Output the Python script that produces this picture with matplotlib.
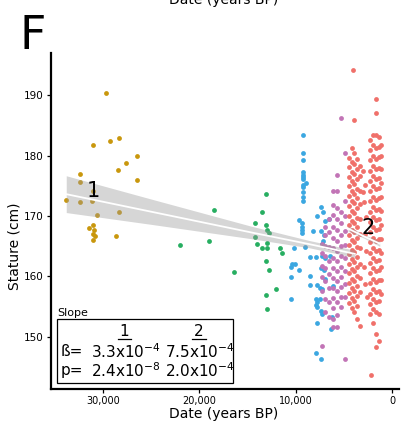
import matplotlib
matplotlib.use("Agg")
import matplotlib.pyplot as plt
import numpy as np

plt.rcParams['font.family'] = ['DejaVu Sans']
plt.rcParams['mathtext.default'] = 'regular'

# ---- data (years BP, stature cm) ----
gold_years = [29630, 31000, 29210, 28310, 26450, 27550, 28450, 32320, 26450, 32320,
              31040, 33770, 32320, 31080, 30590, 28340, 31000, 31450, 30930, 31040,
              30800, 28590, 31000]
gold_stature = [190.4, 181.7, 182.4, 182.9, 180.0, 178.7, 177.6, 176.9, 176.0, 175.6,
                174.1, 172.6, 172.3, 172.5, 170.1, 170.6, 168.5, 168.0, 167.7, 167.0,
                166.7, 166.6, 166.0]

green_years = [21960, 19020, 18440, 16360, 13050, 13460, 14250, 13080, 13000, 12740,
               14250, 13000, 14040, 13520, 13000, 11630, 11390, 13050, 12710, 12070,
               13050, 12970]
green_stature = [165.2, 165.9, 170.9, 160.7, 173.6, 170.6, 168.8, 168.5, 167.7, 167.2,
                 166.5, 165.5, 165.3, 164.6, 164.6, 164.6, 163.8, 162.5, 161.0, 157.8,
                 156.8, 154.5]

blue_years = [9250, 9250, 9250, 9250, 9250, 9250, 9250, 8970, 9250, 9250,
              9250, 9250, 9250, 7390, 7150, 7730, 6560, 6900, 9640, 9290,
              9290, 9290, 9290, 8150, 7390, 7050, 7110, 7210, 9000, 10190,
              8530, 7830, 7210, 6900, 6380, 10360, 10010, 10500, 9670, 7390,
              7050, 10430, 8530, 6900, 8530, 7730, 7490, 7210, 6110, 10430,
              7910, 7490, 7730, 7830, 7730, 7390, 7210, 6220, 7770, 6350,
              7830, 7360]
blue_stature = [183.4, 180.5, 179.2, 177.2, 176.8, 176.5, 176.1, 175.4, 175.1, 174.8,
                173.9, 173.2, 172.5, 171.4, 170.6, 170.0, 169.4, 169.2, 169.3, 168.8,
                168.2, 167.7, 167.2, 167.5, 167.5, 166.8, 165.9, 165.4, 164.9, 164.7,
                163.1, 163.1, 163.4, 163.0, 163.4, 162.0, 162.0, 161.6, 161.0, 161.4,
                161.0, 159.9, 160.1, 159.6, 158.5, 158.6, 158.1, 157.8, 158.4, 156.3,
                156.3, 156.3, 155.7, 155.2, 154.9, 154.2, 153.8, 153.3, 152.2, 151.3,
                147.3, 146.3]

# purple: read column by column
purple_col_years = [7250, 6900, 6500, 6100, 5700, 5300, 4850]
purple_col_stature = [
    [165.4, 163.8, 161.7, 159.9, 157.6, 148.4],
    [168.2, 166.8, 165.0, 163.4, 161.3, 159.2, 156.2, 154.0],
    [169.5, 167.3, 164.8, 162.6, 160.4, 158.1, 155.7, 153.2],
    [174.2, 171.8, 170.2, 168.2, 166.3, 164.6, 163.0, 161.3, 159.7, 158.0, 156.4, 154.7, 152.9, 151.6],
    [176.8, 174.1, 171.3, 169.4, 167.6, 165.8, 164.1, 162.5, 160.9, 159.2, 157.5, 155.8, 153.6, 151.6],
    [186.3, 170.7, 168.9, 166.8, 165.0, 163.3, 161.6, 159.9, 158.2, 156.6, 154.9],
    [180.4, 172.5, 170.0, 167.5, 165.2, 163.0, 160.8, 158.7, 156.5, 146.2],
]

# red: two dense clusters, read column by column
red_col_years = [4500, 4200, 3900, 3600, 3300, 2300, 2000, 1700, 1400, 1100]
red_col_stature = [
    [179.6, 178.1, 176.4, 174.9, 173.3, 171.6, 170.0, 168.5, 166.9, 165.2, 163.6, 162.1, 160.5, 158.8, 157.2, 155.6],
    [181.3, 179.0, 177.3, 175.7, 174.1, 172.4, 170.8, 169.2, 167.6, 166.0, 164.4, 162.8, 161.2, 159.6, 158.0, 156.4, 154.7],
    [185.9, 180.4, 178.6, 177.0, 175.3, 173.7, 172.1, 170.5, 168.9, 167.3, 165.7, 164.0, 162.4, 160.8, 159.2, 157.5, 155.9, 154.1],
    [179.4, 177.8, 176.1, 174.5, 172.9, 171.3, 169.7, 168.1, 166.4, 164.8, 163.2, 161.6, 160.0, 158.4, 156.7, 155.1, 152.9],
    [178.3, 176.6, 174.2, 171.9, 169.4, 167.0, 164.6, 162.1, 159.7, 157.3, 151.8],
    [182.6, 180.9, 179.2, 177.5, 175.8, 174.1, 172.4, 170.7, 169.0, 167.3, 165.6, 163.9, 162.2, 160.5, 158.8, 157.1, 155.4, 153.7],
    [183.4, 181.7, 180.0, 178.3, 176.6, 174.9, 173.2, 171.5, 169.8, 168.1, 166.4, 164.7, 163.0, 161.3, 159.6, 157.9, 156.2, 154.5, 152.3],
    [189.3, 187.1, 183.4, 181.2, 179.5, 177.8, 176.1, 174.4, 172.7, 171.0, 169.3, 167.6, 165.9, 164.2, 162.5, 160.8, 159.1, 157.4, 155.7, 154.0, 150.4, 148.3],
    [183.0, 181.4, 179.7, 178.0, 176.3, 174.6, 172.9, 171.2, 169.5, 167.8, 166.1, 164.4, 162.7, 161.0, 159.3, 157.6, 155.9, 153.8, 149.3],
    [181.8, 180.0, 177.7, 175.4, 173.1, 170.8, 168.5, 166.2, 163.9, 161.6, 159.3, 157.0],
]
red_extra_years = [4000, 3000, 2800, 2950, 2700, 2850, 2650, 2900, 2750, 3050, 2600, 2200]
red_extra_stature = [194.2, 177.4, 175.1, 172.3, 169.8, 167.0, 164.1, 161.5, 158.7, 174.0, 156.5, 143.7]

# regression fits + confidence band half widths
fit1_years = [33780, 25000, 14740, 8540, 3860]
fit1_mid = [173.6, 170.7, 167.3, 165.3, 163.7]
fit1_half = [3.05, 2.1, 1.05, 0.6, 0.6]
fit2_years = [4560, 2900, 1270]
fit2_mid = [167.9, 166.6, 165.4]
fit2_half = [0.45, 0.3, 0.45]

slope_beta = ['3.3x10$^{-4}$', '7.5x10$^{-4}$']
slope_p = ['2.4x10$^{-8}$', '2.0x10$^{-4}$']

c_gold = '#C9970D'
c_green = '#27AE61'
c_blue = '#3BA7E1'
c_purple = '#C274B6'
c_red = '#F0706A'

purple_x = []
purple_y = []
for yr, col in zip(purple_col_years, purple_col_stature):
    purple_x += [yr] * len(col)
    purple_y += col
red_x = []
red_y = []
for yr, col in zip(red_col_years, red_col_stature):
    red_x += [yr] * len(col)
    red_y += col
red_x += red_extra_years
red_y += red_extra_stature

fig = plt.figure(figsize=(4.18, 4.44), dpi=100)
ax = fig.add_axes([51/418, 55/444, 348/418, 336/444])

ms = 12
ax.scatter(gold_years, gold_stature, s=ms, color=c_gold, lw=0, zorder=2)
ax.scatter(green_years, green_stature, s=ms, color=c_green, lw=0, zorder=2)
ax.scatter(blue_years, blue_stature, s=ms, color=c_blue, lw=0, zorder=2)
ax.scatter(purple_x, purple_y, s=ms, color=c_purple, lw=0, zorder=2)
ax.scatter(red_x, red_y, s=ms, color=c_red, lw=0, zorder=2)

m1 = np.array(fit1_mid); h1 = np.array(fit1_half)
m2 = np.array(fit2_mid); h2 = np.array(fit2_half)
ax.fill_between(fit1_years, m1 - h1, m1 + h1, color='#999999', alpha=0.4, lw=0, zorder=3)
ax.plot(fit1_years, m1, color='white', lw=1.3, zorder=4)
ax.fill_between(fit2_years, m2 - h2, m2 + h2, color='#999999', alpha=0.4, lw=0, zorder=3)
ax.plot(fit2_years, m2, color='white', lw=1.3, zorder=4)

ax.text(31000, 174.1, '1', fontsize=15, ha='center', va='center', zorder=5)
ax.text(2520, 168.0, '2', fontsize=15, ha='center', va='center', zorder=5)

ax.set_xlim(35360, -725)
ax.set_ylim(141.3, 197)
ax.set_xticks([30000, 20000, 10000, 0])
ax.set_xticklabels(['30,000', '20,000', '10,000', '0'])
ax.set_yticks([150, 160, 170, 180, 190])
ax.tick_params(direction='out', length=3, width=0.9, labelsize=7.5, pad=2, colors='black')
ax.tick_params(axis='x', labelsize=7)
for s in ['top', 'right']:
    ax.spines[s].set_visible(False)
for s in ['left', 'bottom']:
    ax.spines[s].set_linewidth(1.6)

fig.text(224/418, 1 - 414/444, 'Date (years BP)', fontsize=10, ha='center', va='center')
fig.text(15/418, 1 - 246/444, 'Stature (cm)', fontsize=10, rotation=90, ha='center', va='center')
# bottom edge of the previous panel's axis title, cut by the figure edge as in the source
fig.text(224/418, 1 - 4/444, 'Date (years BP)', fontsize=10, ha='center', va='baseline')
fig.text(20/418, 1 - 49/444, 'F', fontsize=33, ha='left', va='baseline')

# slope table
box = plt.Rectangle((0.016, 0.017), 0.508, 0.19, transform=ax.transAxes,
                    facecolor='white', edgecolor='black', lw=0.9, zorder=6)
ax.add_patch(box)
tfs = 11
ax.text(0.017, 0.212, 'Slope', transform=ax.transAxes, fontsize=8, ha='left', va='bottom', zorder=7)
ax.text(0.211, 0.171, '1', transform=ax.transAxes, fontsize=tfs, ha='center', va='center', zorder=7)
ax.text(0.425, 0.171, '2', transform=ax.transAxes, fontsize=tfs, ha='center', va='center', zorder=7)
ax.plot([0.192, 0.230], [0.148, 0.148], transform=ax.transAxes, color='black', lw=0.9, zorder=7)
ax.plot([0.406, 0.444], [0.148, 0.148], transform=ax.transAxes, color='black', lw=0.9, zorder=7)
ax.text(0.029, 0.111, 'ß=', transform=ax.transAxes, fontsize=tfs, ha='left', va='center', zorder=7)
ax.text(0.029, 0.054, 'p=', transform=ax.transAxes, fontsize=tfs, ha='left', va='center', zorder=7)
ax.text(0.216, 0.111, slope_beta[0], transform=ax.transAxes, fontsize=tfs, ha='center', va='center', zorder=7)
ax.text(0.428, 0.111, slope_beta[1], transform=ax.transAxes, fontsize=tfs, ha='center', va='center', zorder=7)
ax.text(0.216, 0.054, slope_p[0], transform=ax.transAxes, fontsize=tfs, ha='center', va='center', zorder=7)
ax.text(0.428, 0.054, slope_p[1], transform=ax.transAxes, fontsize=tfs, ha='center', va='center', zorder=7)

fig.savefig('out.png', dpi=100)
